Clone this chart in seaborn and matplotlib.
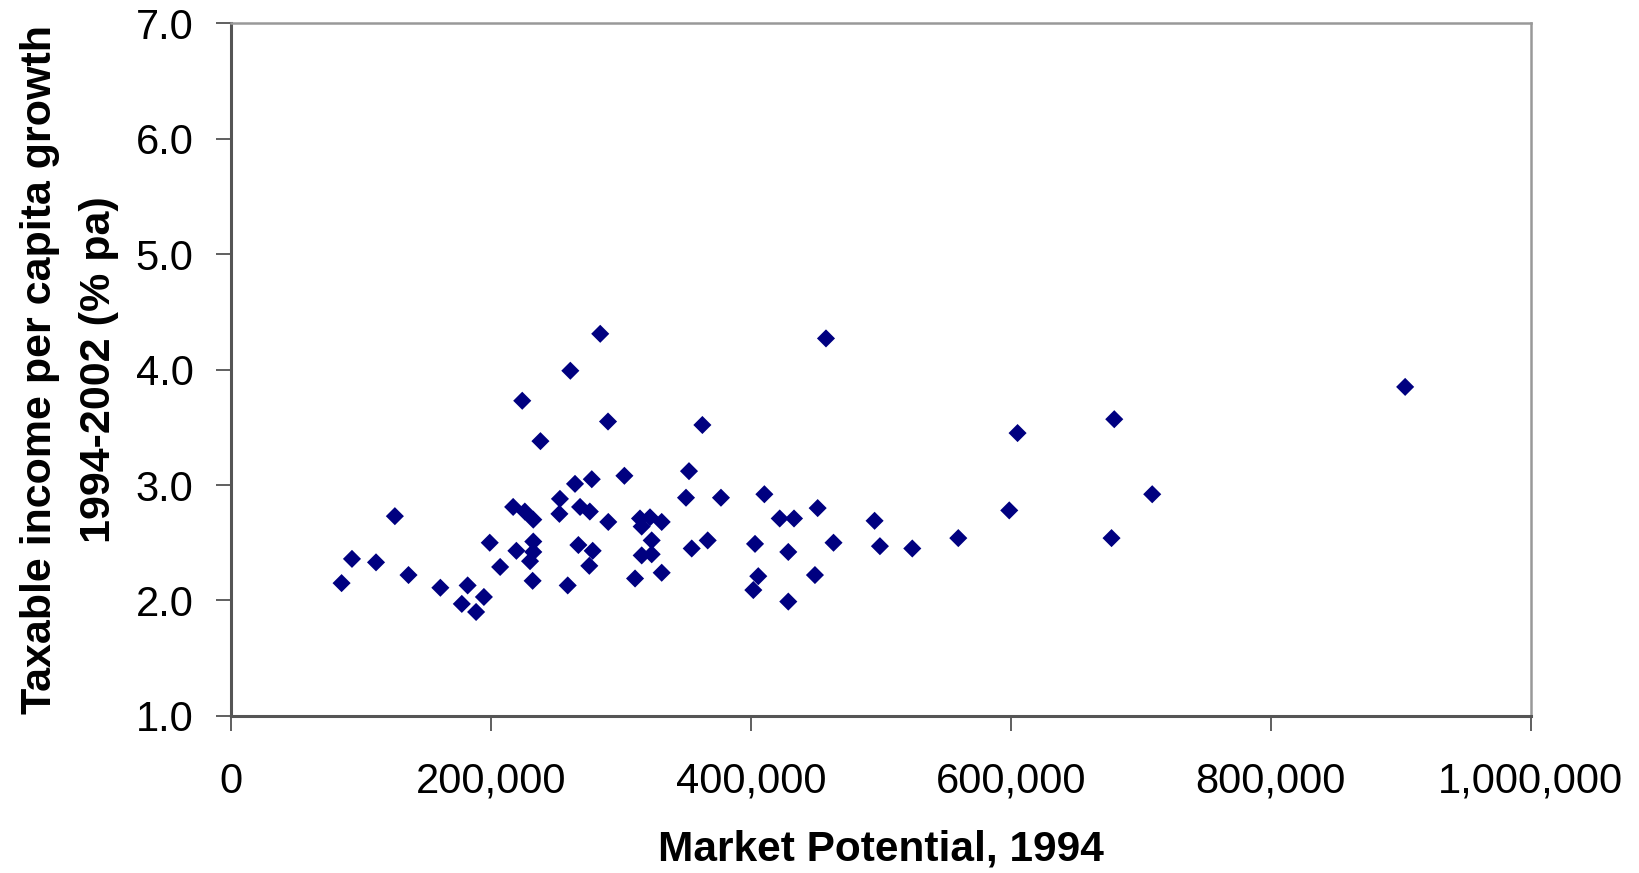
import matplotlib
matplotlib.use("Agg")
import matplotlib.pyplot as plt
import matplotlib.ticker as mticker
import seaborn as sns
import pandas as pd

# market potential 1994 (x) and income growth 1994-2002 (y)
market_potential = [85000, 93000, 111500, 126000, 136500, 161000, 177500, 182000,
                    188500, 194500, 199000, 207000, 217000, 219500, 224000, 226000,
                    230000, 232500, 232500, 232500, 232000, 238000, 253000, 252600,
                    259000, 261000, 264600, 267200, 268500, 276000, 275600, 277500,
                    278200, 284000, 290000, 290200, 302600, 310800, 314600, 322300,
                    331300, 315900, 323600, 315900, 323600, 331300, 350000, 352300,
                    354400, 362600, 366700, 376900, 401800, 403100, 405600, 410300,
                    422100, 428700, 428700, 433100, 449200, 451300, 457700, 463500,
                    495100, 499200, 524100, 559500, 598700, 605100, 677400, 679500,
                    708700, 903300]
income_growth = [2.15, 2.36, 2.33, 2.73, 2.22, 2.11, 1.97, 2.13,
                 1.90, 2.03, 2.50, 2.29, 2.81, 2.43, 3.73, 2.77,
                 2.34, 2.70, 2.51, 2.42, 2.17, 3.38, 2.88, 2.75,
                 2.13, 3.99, 3.01, 2.48, 2.81, 2.77, 2.30, 3.05,
                 2.43, 4.31, 3.55, 2.68, 3.08, 2.19, 2.71, 2.72,
                 2.68, 2.64, 2.52, 2.39, 2.40, 2.24, 2.89, 3.12,
                 2.45, 3.52, 2.52, 2.89, 2.09, 2.49, 2.21, 2.92,
                 2.71, 1.99, 2.42, 2.71, 2.22, 2.80, 4.27, 2.50,
                 2.69, 2.47, 2.45, 2.54, 2.78, 3.45, 2.54, 3.57,
                 2.92, 3.85]

df = pd.DataFrame({'mp': market_potential, 'growth': income_growth})

sns.set_style('white')
plt.rcParams['font.family'] = ['Liberation Sans', 'DejaVu Sans']
plt.rcParams['text.color'] = 'black'
plt.rcParams['axes.labelcolor'] = 'black'

fig = plt.figure(figsize=(16.39, 8.73), dpi=100)
ax = fig.add_axes([0.141, 0.180, 0.793, 0.7933])

sns.scatterplot(data=df, x='mp', y='growth', marker='D', color='#000080',
                edgecolor='none', s=85, ax=ax, legend=False)

ax.set_xlim(0, 1000000)
ax.set_ylim(1.0, 7.0)
ax.set_xticks(range(0, 1000001, 200000))
ax.set_yticks([1, 2, 3, 4, 5, 6, 7])
ax.xaxis.set_major_formatter(mticker.FuncFormatter(lambda v, p: f'{int(v):,}'))
ax.yaxis.set_major_formatter(mticker.FormatStrFormatter('%.1f'))

for side in ['left', 'bottom']:
    ax.spines[side].set_color('#555555')
    ax.spines[side].set_linewidth(2.2)
for side in ['top', 'right']:
    ax.spines[side].set_color('#999999')
    ax.spines[side].set_linewidth(1.8)

ax.tick_params(axis='both', direction='out', length=11, width=1.2, color='#444444',
               labelsize=30, labelcolor='black')
ax.tick_params(axis='x', pad=22, bottom=True)
ax.tick_params(axis='y', pad=16, left=True)

ax.set_xlabel('Market Potential, 1994', fontsize=30.5, fontweight='bold',
              labelpad=20, color='black')
ax.set_ylabel('Taxable income per capita growth\n1994-2002 (% pa)', fontsize=31,
              fontweight='bold', labelpad=12, linespacing=1.6, color='black')

fig.savefig('out.png', dpi=100)
